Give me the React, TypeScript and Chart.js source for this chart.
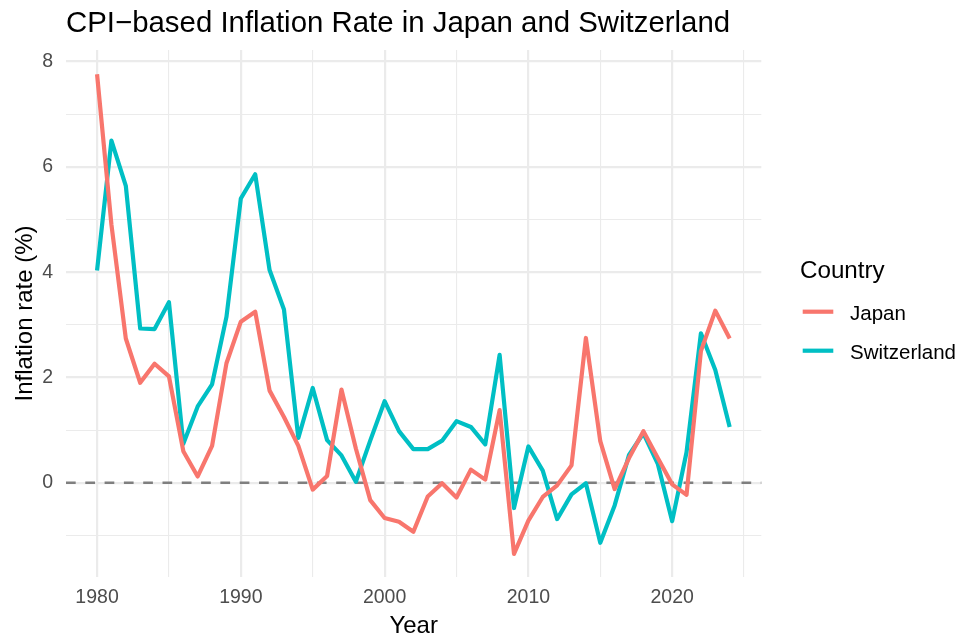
import React, { useEffect, useRef } from "react";
import { Chart, registerables } from "chart.js";

Chart.register(...registerables);

const years = [
  1980, 1981, 1982, 1983, 1984, 1985, 1986, 1987, 1988, 1989,
  1990, 1991, 1992, 1993, 1994, 1995, 1996, 1997, 1998, 1999,
  2000, 2001, 2002, 2003, 2004, 2005, 2006, 2007, 2008, 2009,
  2010, 2011, 2012, 2013, 2014, 2015, 2016, 2017, 2018, 2019,
  2020, 2021, 2022, 2023, 2024,
];

const japan = [
  7.76, 4.9, 2.74, 1.9, 2.26, 2.02, 0.6, 0.12, 0.7, 2.27,
  3.06, 3.25, 1.75, 1.25, 0.7, -0.13, 0.13, 1.77, 0.65, -0.33,
  -0.67, -0.74, -0.93, -0.26, -0.01, -0.28, 0.25, 0.06, 1.38, -1.35,
  -0.72, -0.27, -0.05, 0.33, 2.75, 0.79, -0.12, 0.47, 0.98, 0.47,
  -0.03, -0.23, 2.5, 3.27, 2.74,
];

const switzerland = [
  4.03, 6.5, 5.64, 2.93, 2.92, 3.43, 0.74, 1.45, 1.87, 3.15,
  5.4, 5.86, 4.04, 3.29, 0.85, 1.8, 0.81, 0.52, 0.02, 0.8,
  1.55, 0.98, 0.64, 0.64, 0.8, 1.17, 1.06, 0.73, 2.43, -0.48,
  0.69, 0.23, -0.69, -0.22, -0.01, -1.14, -0.43, 0.53, 0.94, 0.36,
  -0.73, 0.58, 2.84, 2.14, 1.06,
];

const seriesNames = ["Japan", "Switzerland"];
const seriesColors = ["#F8766D", "#00BFC4"];
const xTicks = [1980, 1985, 1990, 1995, 2000, 2005, 2010, 2015, 2020, 2025];
const yTicks = [-1, 0, 1, 2, 3, 4, 5, 6, 7, 8];

const titleText = "CPI\u2212based Inflation Rate in Japan and Switzerland";
const xTitle = "Year";
const yTitle = "Inflation rate (%)";
const legendTitle = "Country";

const FONT = '"Liberation Sans", Arial, Helvetica, sans-serif';

const decorPlugin = {
  id: "decor",
  beforeDatasetsDraw(chart: any) {
    const { ctx, chartArea, scales } = chart;
    const y0 = scales.y.getPixelForValue(0);
    ctx.save();
    ctx.strokeStyle = "#7F7F7F";
    ctx.lineWidth = 2.3;
    ctx.setLineDash([9.7, 9.6]);
    ctx.beginPath();
    ctx.moveTo(chartArea.left, y0);
    ctx.lineTo(chartArea.right, y0);
    ctx.stroke();
    ctx.restore();
  },
  afterDraw(chart: any) {
    const { ctx, chartArea } = chart;
    ctx.save();
    ctx.fillStyle = "#000000";
    ctx.textBaseline = "alphabetic";
    // Title
    ctx.font = `29.4px ${FONT}`;
    ctx.textAlign = "left";
    ctx.fillText(titleText, chartArea.left, 31.7);
    // X title
    ctx.font = `24px ${FONT}`;
    ctx.textAlign = "center";
    ctx.fillText(xTitle, (chartArea.left + chartArea.right) / 2, 633.3);
    // Y title
    ctx.save();
    ctx.translate(31.5, (chartArea.top + chartArea.bottom) / 2);
    ctx.rotate(-Math.PI / 2);
    ctx.textAlign = "center";
    ctx.fillText(yTitle, 0, 0);
    ctx.restore();
    // Legend
    ctx.textAlign = "left";
    ctx.font = `24.2px ${FONT}`;
    ctx.fillText(legendTitle, 800, 278.3);
    ctx.font = `20.5px ${FONT}`;
    chart.data.datasets.forEach((ds: any, i: number) => {
      const cy = 311.7 + i * 39;
      ctx.strokeStyle = ds.borderColor;
      ctx.lineWidth = 4.2;
      ctx.lineCap = "butt";
      ctx.beginPath();
      ctx.moveTo(802.7, cy);
      ctx.lineTo(833.3, cy);
      ctx.stroke();
      ctx.fillStyle = "#000000";
      ctx.fillText(ds.label, 850, cy + 7.8);
    });
    ctx.restore();
  },
};

export default function App() {
  const canvasRef = useRef<HTMLCanvasElement | null>(null);

  useEffect(() => {
    if (!canvasRef.current) return;
    const chart = new Chart(canvasRef.current, {
      type: "line",
      data: {
        datasets: [japan, switzerland].map((vals, i) => ({
          label: seriesNames[i],
          data: years.map((yr, j) => ({ x: yr, y: vals[j] })),
          borderColor: seriesColors[i],
          backgroundColor: seriesColors[i],
          borderWidth: 4.2,
          pointRadius: 0,
          tension: 0,
          borderJoinStyle: "round" as const,
          borderCapStyle: "butt" as const,
          fill: false,
        })),
      },
      options: {
        responsive: false,
        animation: false,
        layout: { padding: { left: 0, right: 199.7, top: 50, bottom: 0 } },
        plugins: {
          legend: { display: false },
          title: { display: false },
          tooltip: { enabled: false },
        },
        scales: {
          x: {
            type: "linear",
            min: 1977.84,
            max: 2026.2,
            afterBuildTicks: (scale: any) => {
              scale.ticks = xTicks.map((v) => ({ value: v }));
            },
            afterFit: (scale: any) => {
              scale.height = 64;
            },
            border: { display: false },
            grid: {
              color: "#EBEBEB",
              lineWidth: (c: any) => (c.tick && c.tick.value % 10 === 0 ? 2.2 : 1.1),
              drawTicks: false,
            },
            ticks: {
              autoSkip: false,
              maxRotation: 0,
              padding: 9,
              color: "#4D4D4D",
              font: { family: FONT, size: 19.5 },
              callback: (v: any) => (Number(v) % 10 === 0 ? String(v) : ""),
            },
          },
          y: {
            type: "linear",
            min: -1.79,
            max: 8.22,
            afterBuildTicks: (scale: any) => {
              scale.ticks = yTicks.map((v) => ({ value: v }));
            },
            afterFit: (scale: any) => {
              scale.width = 66;
            },
            border: { display: false },
            grid: {
              color: "#EBEBEB",
              lineWidth: (c: any) => (c.tick && c.tick.value % 2 === 0 ? 2.2 : 1.1),
              drawTicks: false,
            },
            ticks: {
              autoSkip: false,
              padding: 13,
              color: "#4D4D4D",
              font: { family: FONT, size: 19.5 },
              callback: (v: any) => (Number(v) % 2 === 0 ? String(v) : ""),
            },
          },
        },
      },
      plugins: [decorPlugin],
    });
    return () => chart.destroy();
  }, []);

  return (
    <div style={{ position: "fixed", left: 0, top: 0, width: 961, height: 641, background: "#ffffff" }}>
      <canvas ref={canvasRef} width={961} height={641} style={{ display: "block" }} />
    </div>
  );
}
